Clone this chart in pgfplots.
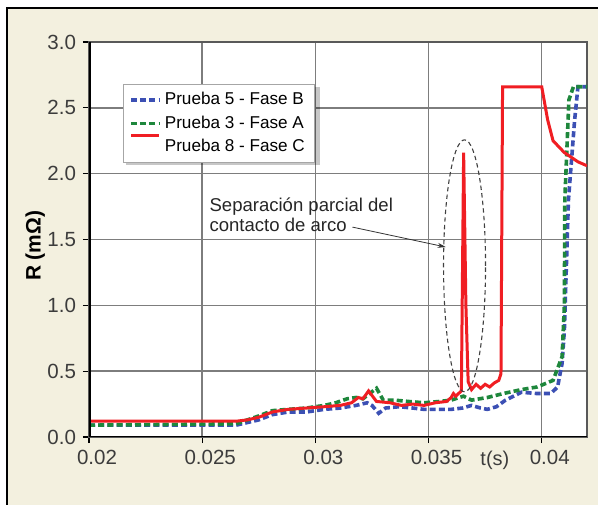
\documentclass[border=0pt]{standalone}
\usepackage{pgfplots}
\pgfplotsset{compat=1.18}
\usepackage{fontspec}
\setmainfont{Liberation Sans}
\usetikzlibrary{arrows.meta}
\definecolor{bgbeige}{RGB}{243,240,223}
\definecolor{cblue}{RGB}{60,80,180}
\definecolor{cgreen}{RGB}{30,135,60}
\definecolor{cred}{RGB}{240,30,35}
\definecolor{tickgray}{RGB}{60,60,60}
\definecolor{gridgray}{RGB}{125,125,125}
\pgfplotsset{redleg/.style={legend image code/.code={\path[draw=none] (0bp,0bp) -- (14bp,0bp); \draw[##1, overlay] (0bp,5.5bp) -- (14bp,5.5bp);}}}
\begin{document}
\begin{tikzpicture}
\path[use as bounding box] (0bp,0bp) rectangle (299bp,252.5bp);
\fill[white] (0bp,0bp) rectangle (299bp,252.5bp);
\fill[bgbeige] (3.5bp,0bp) rectangle (299bp,248.5bp);
\draw[black, line width=0.6bp] (3.5bp,0bp) -- (3.5bp,248.5bp) -- (299bp,248.5bp);
\begin{axis}[
  at={(44.5bp,34bp)}, anchor=south west,
  scale only axis, width=249bp, height=197.5bp,
  xmin=0.02, xmax=0.0420, ymin=0, ymax=3,
  axis background/.style={fill=white},
  xtick={0.02,0.025,0.03,0.035,0.04},
  ytick={0,0.5,1,1.5,2,2.5,3},
  scaled x ticks=false,
  /pgf/number format/assume math mode=true,
  tick label style={font=\fontsize{10.3}{12}\selectfont, text=tickgray},
  yticklabel style={/pgf/number format/.cd, fixed, fixed zerofill, precision=1},
  xticklabel style={xshift=4bp, /pgf/number format/.cd, fixed, precision=3},
  tick align=outside, major tick length=3bp,
  xtick pos=bottom, ytick pos=left,
  tick style={black, line width=0.6bp},
  grid=major,
  major grid style={draw=gridgray, line width=0.7bp},
  axis line style={draw=black!65, line width=0.8bp},
  xlabel={t(s)},
  xlabel style={at={(rel axis cs:0.815,0)}, anchor=center, yshift=-11.5bp, font=\fontsize{10}{12}\selectfont, text=tickgray},
  ylabel={\bfseries R (mΩ)},
  ylabel style={at={(rel axis cs:-0.108,0.484)}, anchor=center, font=\fontsize{10.5}{12}\selectfont},
  legend cell align=left,
  legend style={at={(rel axis cs:0.068,0.894)}, anchor=north west, draw=black!35, fill=white,
    font=\fontsize{8.6}{10}\selectfont, inner xsep=3bp, inner ysep=2bp},
  legend image code/.code={\draw[#1] (0bp,0bp) -- (14bp,0bp);},
]
\fill[black, opacity=0.22] ([xshift=1.8bp,yshift=-1.8bp]rel axis cs:0.068,0.894) rectangle ([xshift=1.8bp,yshift=-1.8bp]rel axis cs:0.456,0.697);
\addplot[cblue, line width=1.8bp, dash pattern=on 3bp off 1.6bp] table {
x y
0.0200 0.09
0.0265 0.09
0.0270 0.11
0.0275 0.13
0.0281 0.17
0.0288 0.19
0.0296 0.19
0.0304 0.21
0.0311 0.22
0.0318 0.24
0.03229 0.26
0.0325 0.24
0.0328 0.18
0.0331 0.22
0.0337 0.23
0.0343 0.22
0.0348 0.21
0.0355 0.21
0.0360 0.21
0.0365 0.22
0.0369 0.24
0.0373 0.22
0.0376 0.21
0.0380 0.23
0.0384 0.28
0.0391 0.34
0.0398 0.33
0.0404 0.33
0.0407 0.38
0.0409 0.56
0.0410 0.81
0.04118 1.8
0.04145 2.4
0.0416 2.66
0.0420 2.66
};
\addlegendentry{Prueba 5 - Fase B}
\addplot[cgreen, line width=1.8bp, dash pattern=on 3bp off 1.6bp] table {
x y
0.0200 0.09
0.0265 0.10
0.0270 0.13
0.0275 0.16
0.0281 0.20
0.0288 0.21
0.0296 0.22
0.0304 0.24
0.0309 0.26
0.0314 0.29
0.0318 0.30
0.0321 0.29
0.0324 0.33
0.0327 0.37
0.0330 0.28
0.0335 0.28
0.0341 0.27
0.0348 0.26
0.0355 0.27
0.0360 0.28
0.03654 0.31
0.0369 0.28
0.0376 0.30
0.0383 0.33
0.0391 0.36
0.0398 0.38
0.0405 0.43
0.0409 0.61
0.04100 1.0
0.04102 1.8
0.0412 2.56
0.0414 2.66
0.0420 2.66
};
\addlegendentry{Prueba 3 - Fase A}
\addplot[cred, line width=1.5bp, redleg] table {
x y
0.0200 0.12
0.0265 0.12
0.0270 0.13
0.0275 0.15
0.0281 0.19
0.0288 0.21
0.0296 0.22
0.0304 0.23
0.0311 0.24
0.0316 0.26
0.0319 0.30
0.0321 0.29
0.03235 0.35
0.0327 0.27
0.0333 0.26
0.0338 0.24
0.0343 0.25
0.0348 0.24
0.0353 0.26
0.0358 0.27
0.0360 0.30
0.0361 0.33
0.0362 0.31
0.03645 0.35
0.03655 2.16
0.03665 1.0
0.03675 0.42
0.0369 0.36
0.0371 0.40
0.0373 0.37
0.0375 0.40
0.0377 0.38
0.0379 0.41
0.0381 0.43
0.0382 0.48
0.03827 2.66
0.0400 2.66
0.04026 2.41
0.0405 2.25
0.0410 2.16
0.0416 2.09
0.0420 2.06
};
\addlegendentry{Prueba 8 - Fase C}
\draw[dash pattern=on 2.2bp off 1.6bp, black!75, line width=0.55bp] (axis cs:0.03659,1.30) ellipse [x radius=10.5bp, y radius=63bp];
\draw[-{Stealth[length=4bp,width=2.5bp]}, black!80, line width=0.4bp] (axis cs:0.03164,1.594) -- (axis cs:0.035754,1.443);
\node[anchor=base west, inner sep=0pt, font=\fontsize{9.3}{11}\selectfont, text=black!85] at (axis cs:0.02531,1.711) {Separación parcial del};
\node[anchor=base west, inner sep=0pt, font=\fontsize{9.3}{11}\selectfont, text=black!85] at (axis cs:0.02531,1.564) {contacto de arco};
\draw[black, line width=1.5bp] (rel axis cs:0,1) -- (rel axis cs:0,0) -- (rel axis cs:1,0);
\end{axis}
\end{tikzpicture}
\end{document}
